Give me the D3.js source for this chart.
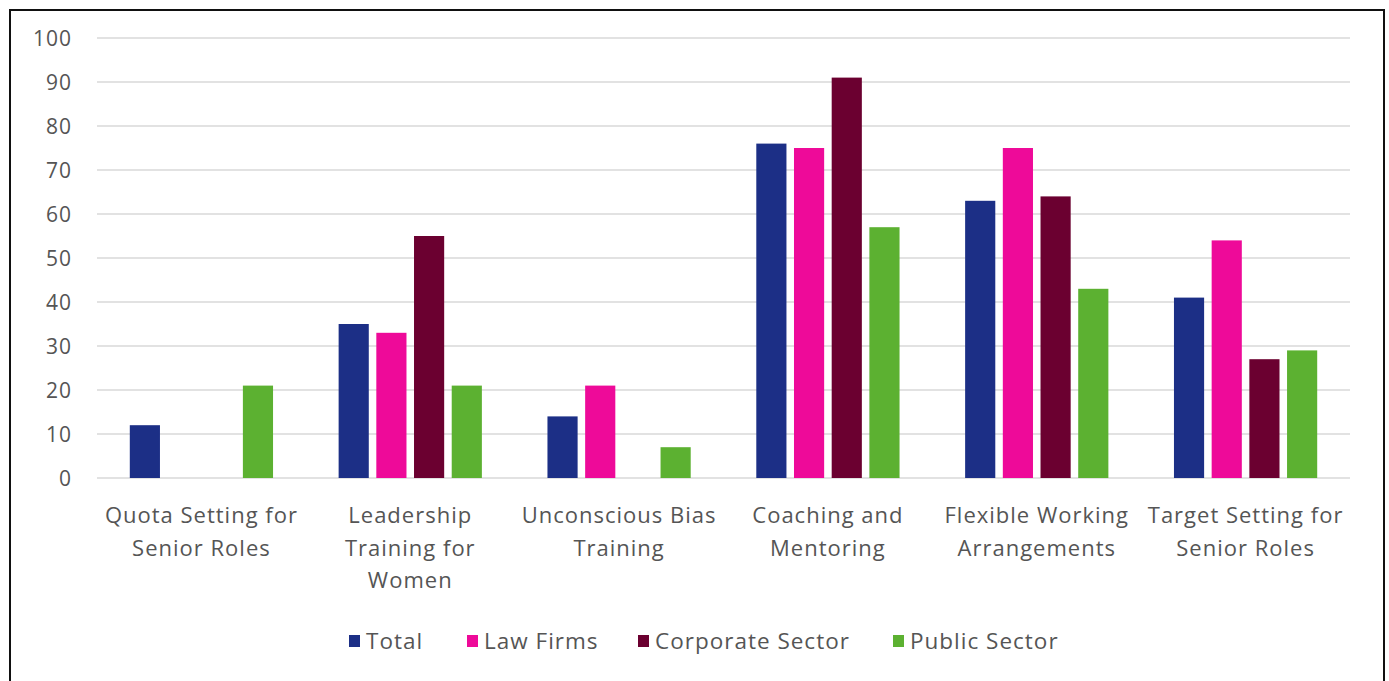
<!DOCTYPE html>
<html>
<head>
<meta charset="utf-8">
<script src="https://cdn.jsdelivr.net/npm/d3@7"></script>
<style>
  html, body { margin: 0; padding: 0; background: #fff; }
  svg text { font-family: "Open Sans", sans-serif; fill: #555; letter-spacing: 1px; }
</style>
</head>
<body>
<div id="chart"></div>
<script>
const categories = [
  ["Quota Setting for", "Senior Roles"],
  ["Leadership", "Training for", "Women"],
  ["Unconscious Bias", "Training"],
  ["Coaching and", "Mentoring"],
  ["Flexible Working", "Arrangements"],
  ["Target Setting for", "Senior Roles"]
];
const series = ["Total", "Law Firms", "Corporate Sector", "Public Sector"];
const total = [12, 35, 14, 76, 63, 41];
const lawFirms = [0, 33, 21, 75, 75, 54];
const corporate = [0, 55, 0, 91, 64, 27];
const publicSector = [21, 21, 7, 57, 43, 29];
const yTicks = [0, 10, 20, 30, 40, 50, 60, 70, 80, 90, 100];

const colors = ["#1c2f86", "#ee0a99", "#6b0030", "#5cb131"];
const values = [total, lawFirms, corporate, publicSector];

const width = 1389, height = 681;
const margin = { left: 97, right: 39, top: 38, bottom: 203 };

const svg = d3.select("#chart").append("svg")
  .attr("width", width).attr("height", height);

// outer frame (bottom edge falls outside the picture)
svg.append("rect")
  .attr("x", 10).attr("y", 10)
  .attr("width", 1374).attr("height", 690)
  .attr("fill", "none").attr("stroke", "#111").attr("stroke-width", 2);

const x0 = d3.scaleBand()
  .domain(d3.range(categories.length))
  .range([margin.left, width - margin.right]);

const x1 = d3.scaleBand()
  .domain(series)
  .range([0, x0.bandwidth()])
  .paddingInner(0.2)
  .paddingOuter(0.87);

const y = d3.scaleLinear()
  .domain([0, 100])
  .range([height - margin.bottom, margin.top]);

// gridlines
svg.append("g")
  .selectAll("line")
  .data(yTicks)
  .join("line")
  .attr("x1", margin.left)
  .attr("x2", width - margin.right)
  .attr("y1", d => y(d))
  .attr("y2", d => y(d))
  .attr("stroke", "#d9d9d9")
  .attr("stroke-width", 1.5);

// y axis labels
svg.append("g")
  .selectAll("text")
  .data(yTicks)
  .join("text")
  .attr("x", 72)
  .attr("y", d => y(d))
  .attr("dy", "0.36em")
  .attr("text-anchor", "end")
  .attr("font-size", 21)
  .text(d => d);

// bars
const groups = svg.append("g")
  .selectAll("g")
  .data(categories.map((c, i) => i))
  .join("g")
  .attr("transform", i => `translate(${x0(i)},0)`);

groups.selectAll("rect")
  .data(i => series.map((s, j) => ({ s, j, v: values[j][i] })))
  .join("rect")
  .attr("x", d => x1(d.s))
  .attr("width", x1.bandwidth())
  .attr("y", d => y(d.v))
  .attr("height", d => y(0) - y(d.v))
  .attr("fill", d => colors[d.j]);

// category labels
const labels = svg.append("g")
  .selectAll("text")
  .data(categories)
  .join("text")
  .attr("x", (d, i) => x0(i) + x0.bandwidth() / 2)
  .attr("y", 523)
  .attr("text-anchor", "middle")
  .attr("font-size", 22);

labels.selectAll("tspan")
  .data(d => d)
  .join("tspan")
  .attr("x", function () { return d3.select(this.parentNode).attr("x"); })
  .attr("dy", (d, i) => i === 0 ? 0 : 32.5)
  .text(d => d);

// legend
const legendX = [349, 467, 638, 893];
const legend = svg.append("g")
  .selectAll("g")
  .data(series)
  .join("g")
  .attr("transform", (d, i) => `translate(${legendX[i]},641)`);

legend.append("rect")
  .attr("x", 0).attr("y", -6)
  .attr("width", 11).attr("height", 12)
  .attr("fill", (d, i) => colors[i]);

legend.append("text")
  .attr("x", 17)
  .attr("dy", "0.36em")
  .attr("font-size", 22.5)
  .text(d => d);
</script>
</body>
</html>
